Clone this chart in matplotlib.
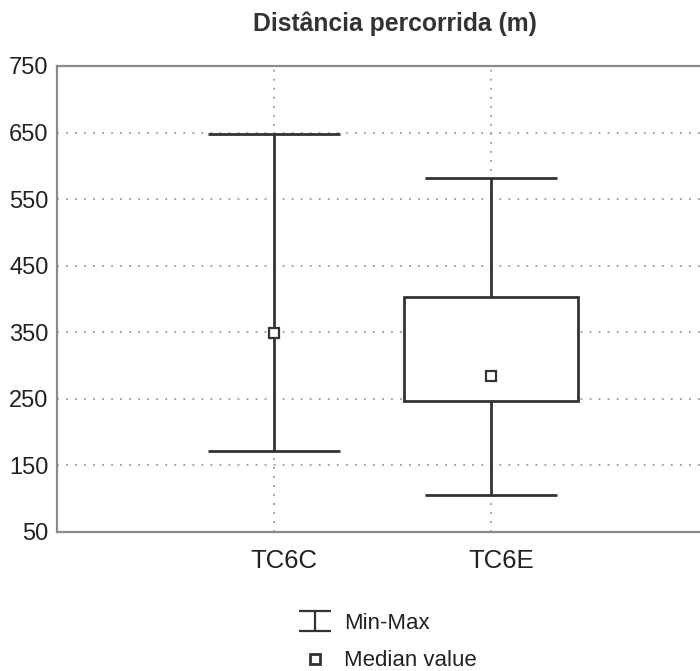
import matplotlib.pyplot as plt
from matplotlib.path import Path
from matplotlib.lines import Line2D
import numpy as np

plt.rcParams['font.family'] = ['Liberation Sans', 'DejaVu Sans']

categories = ['TC6C', 'TC6E']
mins = [172, 106]
maxs = [648, 582]
q1 = [np.nan, 247]
q3 = [np.nan, 403]
medians = [349, 284]
yticks = [50, 150, 250, 350, 450, 550, 650, 750]

line_c = '#333333'
grid_c = '#9a9a9a'
spine_c = '#8a8a8a'

fig = plt.figure(figsize=(7.0, 6.71), dpi=100)
ax = fig.add_axes([57 / 700, 1 - 532 / 671, 651 / 700, 466 / 671])

x = np.arange(1, len(categories) + 1)

# whiskers + caps
ax.vlines(x, mins, maxs, color=line_c, lw=2.0, zorder=3)
ax.hlines(mins, x - 0.304, x + 0.304, color=line_c, lw=2.0, zorder=3)
ax.hlines(maxs, x - 0.304, x + 0.304, color=line_c, lw=2.0, zorder=3)

# boxes (only where quartiles exist)
q1a = np.array(q1, dtype=float)
q3a = np.array(q3, dtype=float)
has_box = ~np.isnan(q1a)
ax.bar(x[has_box], (q3a - q1a)[has_box], bottom=q1a[has_box], width=0.806,
       facecolor='white', edgecolor=line_c, linewidth=2.0, zorder=4)

# medians
ax.plot(x, medians, ls='none', marker='s', ms=7, mfc='white', mec=line_c,
        mew=1.6, zorder=5)

ax.set_xlim(0, 3)
ax.set_ylim(50, 750)
ax.set_yticks(yticks)
# grid on the major ticks, labels slightly right of them (minor ticks)
ax.set_xticks(x)
ax.set_xticklabels([])
ax.set_xticks(x + 0.046, minor=True)
ax.set_xticklabels(categories, minor=True)

ax.tick_params(axis='y', length=0, pad=6, labelsize=17, labelcolor='#222222')
ax.tick_params(axis='x', which='both', length=0, pad=12, labelsize=18.5,
               labelcolor='#222222')

ax.grid(True, which='major', linestyle=(0, (1, 4)), color=grid_c,
        linewidth=1.3, zorder=0)
ax.set_axisbelow(True)

for side in ['left', 'bottom', 'top']:
    ax.spines[side].set_color(spine_c)
    ax.spines[side].set_linewidth(1.6)
ax.spines['right'].set_visible(False)

fig.text(395 / 700, 1 - 24 / 671, 'Distância percorrida (m)', ha='center',
         va='center', fontsize=17.8, fontweight='bold', color='#333333')

# legend
ibeam = Path([(-1, 0.6), (1, 0.6), (0, 0.6), (0, -0.6), (-1, -0.6), (1, -0.6)],
             [Path.MOVETO, Path.LINETO, Path.MOVETO, Path.LINETO, Path.MOVETO, Path.LINETO])
handles = [
    Line2D([], [], ls='none', marker=ibeam, ms=23, mec=line_c, mew=1.6, color=line_c),
    Line2D([], [], ls='none', marker='s', ms=6.5, mfc='white', mec=line_c, mew=2.0),
]
fig.legend(handles, ['Min-Max', 'Median value'], loc='center',
           bbox_to_anchor=(385 / 700, 1 - 642 / 671), frameon=False,
           fontsize=16, handletextpad=0.3, labelspacing=0.75,
           handlelength=2.0, labelcolor='#222222')

fig.savefig('out.png', dpi=100, facecolor='white')
